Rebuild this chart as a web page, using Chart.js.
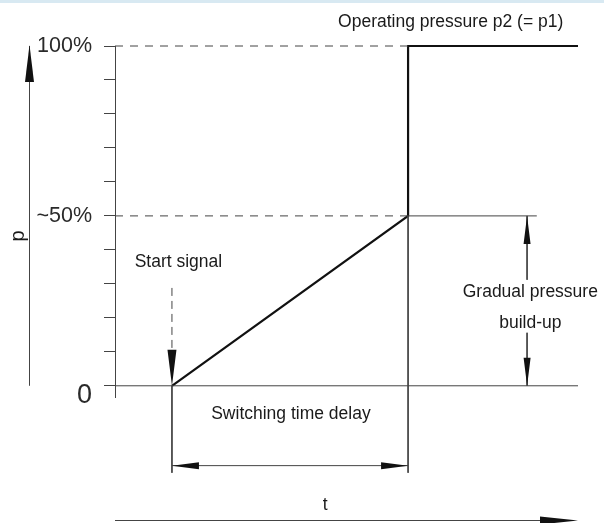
<!DOCTYPE html>
<html>
<head>
<meta charset="utf-8">
<script src="https://cdn.jsdelivr.net/npm/chart.js@4/dist/chart.umd.min.js"></script>
<style>
html,body{margin:0;padding:0;background:#fff;}
#wrap{position:relative;width:604px;height:523px;}
canvas{display:block;}
</style>
</head>
<body>
<div id="wrap"><canvas id="c" width="604" height="523"></canvas></div>
<script>
// ---- data (time in % of drawing width, pressure in %) ----
const curveTime = [12.3, 63.3, 63.3, 100];
const curvePressure = [0, 50, 100, 100];
const pressureTicks = [0, 10, 20, 30, 40, 50, 60, 70, 80, 90, 100];
const tickLabelText = {0: '0', 50: '~50%', 100: '100%'};
const startTime = 12.3;
const switchTime = 63.3;
const endTime = 100;
const buildUpTime = 89.0;
const halfLineEnd = 91.1;
const halfLevel = 50;
const fullLevel = 100;
const dimLevel = -23.5;      // level of the "switching time delay" dimension line
const extLevel = -25.6;      // lower end of the extension lines
const gapTop = 31.2, gapBottom = 15.6; // gap in the build-up dimension line for its label
const startSignalTop = 28.8, startSignalHeadBase = 10.6;

const THIN = '#444';
const INK = '#111';
const TEXT = '#1a1a1a';
const FONT = '"Liberation Sans", Arial, sans-serif';

function pts(xs, ys){ return xs.map((x,i)=>({x:x, y:ys[i]})); }

const thin = {borderColor: THIN, borderWidth: 1, pointRadius: 0, clip: false, fill: false, tension: 0};
const datasets = [
  Object.assign({}, thin, {data: pts([0, switchTime], [fullLevel, fullLevel]), borderDash: [8, 7]}),
  Object.assign({}, thin, {data: pts([0, switchTime], [halfLevel, halfLevel]), borderDash: [8, 7]}),
  Object.assign({}, thin, {data: pts([switchTime, halfLineEnd], [halfLevel, halfLevel])}),
  Object.assign({}, thin, {data: pts([0, endTime], [0, 0])}),
  Object.assign({}, thin, {data: pts([switchTime, switchTime], [halfLevel, extLevel])}),
  Object.assign({}, thin, {data: pts([startTime, startTime], [0, extLevel])}),
  Object.assign({}, thin, {data: pts([startTime, switchTime], [dimLevel, dimLevel])}),
  Object.assign({}, thin, {data: pts([buildUpTime, buildUpTime], [halfLevel, gapTop])}),
  Object.assign({}, thin, {data: pts([buildUpTime, buildUpTime], [gapBottom, 0])}),
  Object.assign({}, thin, {data: pts([startTime, startTime], [startSignalTop, startSignalHeadBase]), borderDash: [8, 5]}),
  {data: pts(curveTime, curvePressure), borderColor: INK, borderWidth: 2.2, pointRadius: 0, clip: false, fill: false, tension: 0}
];

function arrow(ctx, tx, ty, dx, dy, len, w){
  const nx = -dy, ny = dx;
  const bx = tx - dx*len, by = ty - dy*len;
  ctx.beginPath();
  ctx.moveTo(tx, ty);
  ctx.lineTo(bx + nx*w/2, by + ny*w/2);
  ctx.lineTo(bx - nx*w/2, by - ny*w/2);
  ctx.closePath();
  ctx.fill();
}

const decor = {
  id: 'decor',
  beforeDraw(chart){
    const ctx = chart.ctx;
    ctx.save();
    ctx.fillStyle = '#d8e9f2';
    ctx.fillRect(0, 0, chart.width, 3);
    ctx.restore();
  },
  afterDatasetsDraw(chart){
    const ctx = chart.ctx, xs = chart.scales.x, ys = chart.scales.y;
    const X = v => xs.getPixelForValue(v), Y = v => ys.getPixelForValue(v);
    const area = chart.chartArea;
    ctx.save();
    ctx.fillStyle = INK; ctx.strokeStyle = THIN; ctx.lineWidth = 1;
    // arrowheads on the drawing
    arrow(ctx, X(startTime), Y(0), 0, 1, Y(0) - Y(startSignalHeadBase), 9);
    arrow(ctx, X(startTime), Y(dimLevel), -1, 0, 27, 7);
    arrow(ctx, X(switchTime), Y(dimLevel), 1, 0, 27, 7);
    arrow(ctx, X(buildUpTime), Y(halfLevel), 0, -1, 28, 7);
    arrow(ctx, X(buildUpTime), Y(0), 0, 1, 28, 7);
    // p axis arrow
    const px = 29.5;
    ctx.beginPath(); ctx.moveTo(px, Y(0)); ctx.lineTo(px, Y(fullLevel)); ctx.stroke();
    arrow(ctx, px, Y(fullLevel) - 1, 0, -1, 37, 9);
    // t axis arrow
    const ty = 520.5;
    ctx.beginPath(); ctx.moveTo(area.left, ty); ctx.lineTo(area.right - 5, ty); ctx.stroke();
    arrow(ctx, area.right, ty, 1, 0, 38, 8);
    // texts
    ctx.fillStyle = TEXT;
    ctx.font = '17.5px ' + FONT;
    ctx.textAlign = 'center'; ctx.textBaseline = 'middle';
    ctx.fillText('Operating pressure p2 (= p1)', X(72.5), Y(107.1));
    ctx.fillText('Start signal', X(13.7), Y(36.5));
    ctx.fillText('Switching time delay', X(38.0), Y(-8.5));
    ctx.fillText('Gradual pressure', X(89.7), Y(27.6));
    ctx.fillText('build-up', X(89.7), Y(18.5));
    ctx.fillText('t', X(45.4), Y(-35));
    ctx.save();
    ctx.translate(18, 236);
    ctx.rotate(-Math.PI/2);
    ctx.font = '20px ' + FONT;
    ctx.fillText('p', 0, 0);
    ctx.restore();
    ctx.restore();
  }
};

new Chart(document.getElementById('c'), {
  type: 'line',
  data: {datasets: datasets},
  options: {
    responsive: false,
    devicePixelRatio: 1,
    animation: false,
    parsing: true,
    layout: {padding: {left: 0, right: 26, top: 46, bottom: 126}},
    plugins: {legend: {display: false}, tooltip: {enabled: false}, title: {display: false}},
    scales: {
      x: {type: 'linear', min: 0, max: 100, display: false},
      y: {
        type: 'linear', min: -3.3, max: 100,
        afterBuildTicks: s => { s.ticks = pressureTicks.map(v => ({value: v})); },
        afterFit: s => { s.width = 115; },
        border: {display: true, color: THIN, width: 1},
        grid: {display: true, drawOnChartArea: false, drawTicks: true, tickLength: 11, color: THIN, lineWidth: 1},
        ticks: {
          autoSkip: false,
          padding: 12,
          color: '#2a2a2a',
          font: ctx => (ctx.tick && ctx.tick.value === 0)
            ? {family: FONT, size: 27, lineHeight: 0.74}
            : {family: FONT, size: 21.5},
          callback: v => v === 0 ? ['', tickLabelText[0]] : (tickLabelText[v] || '')
        }
      }
    }
  },
  plugins: [decor]
});
</script>
</body>
</html>
